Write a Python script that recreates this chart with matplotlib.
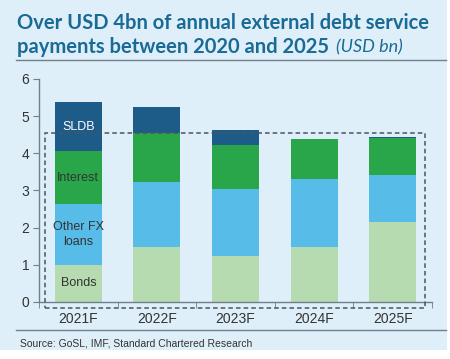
import matplotlib.pyplot as plt
from matplotlib.patches import Rectangle
from matplotlib.lines import Line2D

# data (USD bn)
anios = ['2021F', '2022F', '2023F', '2024F', '2025F']
bonds = [1.00, 1.49, 1.24, 1.49, 2.14]
otros_fx = [1.63, 1.74, 1.79, 1.81, 1.29]
intereses = [1.42, 1.33, 1.20, 1.08, 0.99]
sldb = [1.32, 0.69, 0.41, 0.00, 0.02]

fondo = '#dfeff9'
col_bonds = '#b7dbb0'
col_otros = '#58bce8'
col_int = '#2aa64a'
col_sldb = '#1d5b88'
col_linea = '#6f7f8c'
col_titulo = '#1a6a96'

fig = plt.figure(figsize=(4.5, 3.59), dpi=100, facecolor='white')
fig.add_artist(Rectangle((0, 0.024), 0.993, 0.976, transform=fig.transFigure,
                         fc=fondo, ec='none', zorder=-10))
ax = fig.add_axes([0.0867, 0.1588, 0.8733, 0.6212])
ax.set_facecolor(fondo)

x = list(range(len(anios)))
ancho = 0.6
base = [0] * len(anios)
for vals, col in [(bonds, col_bonds), (otros_fx, col_otros), (intereses, col_int), (sldb, col_sldb)]:
    ax.bar(x, vals, ancho, bottom=base, color=col, zorder=2)
    base = [b + v for b, v in zip(base, vals)]

ax.set_xlim(-0.5, 4.5)
ax.set_ylim(0, 6)
ax.set_yticks(range(0, 7))
ax.set_xticks(x)
ax.set_xticklabels(anios)
ax.set_xticks([i - 0.5 for i in range(6)], minor=True)
ax.tick_params(axis='x', which='major', length=0, pad=7)
ax.tick_params(axis='x', which='minor', length=4, color=col_linea, direction='out')
ax.tick_params(axis='y', length=4, color=col_linea, pad=3)
for t in ax.get_xticklabels() + ax.get_yticklabels():
    t.set_fontfamily(['Liberation Sans Narrow', 'Liberation Sans'])
    t.set_fontsize(10)
    t.set_color('#333333')
for s in ['top', 'right']:
    ax.spines[s].set_visible(False)
for s in ['left', 'bottom']:
    ax.spines[s].set_color(col_linea)
    ax.spines[s].set_linewidth(1)

# etiquetas dentro de la primera barra
etq = dict(ha='center', va='center', fontsize=9, family=['Liberation Sans Narrow', 'Liberation Sans'], zorder=4)
ax.text(0, bonds[0] / 2, 'Bonds', color='#333333', **etq)
ax.text(0, bonds[0] + otros_fx[0] / 2, 'Other FX\nloans', color='#333333', linespacing=1.3, **etq)
ax.text(0, bonds[0] + otros_fx[0] + intereses[0] / 2, 'Interest', color='#333333', **etq)
ax.text(0, bonds[0] + otros_fx[0] + intereses[0] + sldb[0] / 2, 'SLDB', color='white', **etq)

# recuadro punteado
ax.add_patch(Rectangle((-0.42, -0.16), 4.83, 4.72, fill=False, ls=(0, (3, 2)),
                       lw=1.1, ec='#4a5560', zorder=3, clip_on=False))

# titulo
fig.text(0.038, 0.935, 'Over USD 4bn of annual external debt service', fontsize=14.5,
         fontweight='bold', color=col_titulo, family='Lato', va='center')
t2 = fig.text(0.038, 0.868, 'payments between 2020 and 2025', fontsize=14.5,
              fontweight='bold', color=col_titulo, family='Lato', va='center')
ax.annotate('(USD bn)', xy=(1, 0.5), xycoords=t2, xytext=(5, 0), textcoords='offset points',
            fontsize=13, fontstyle='italic', color=col_titulo, family='Lato', va='center',
            annotation_clip=False)

fig.add_artist(Line2D([0.035, 0.99], [0.832, 0.832], color=col_linea, lw=1))
fig.add_artist(Line2D([0.035, 0.99], [0.08, 0.08], color=col_linea, lw=1))
fig.text(0.045, 0.043, 'Source: GoSL, IMF, Standard Chartered Research', fontsize=7.5,
         color='#333333', family='Liberation Sans', va='center')

plt.savefig('out.png', facecolor='white')
